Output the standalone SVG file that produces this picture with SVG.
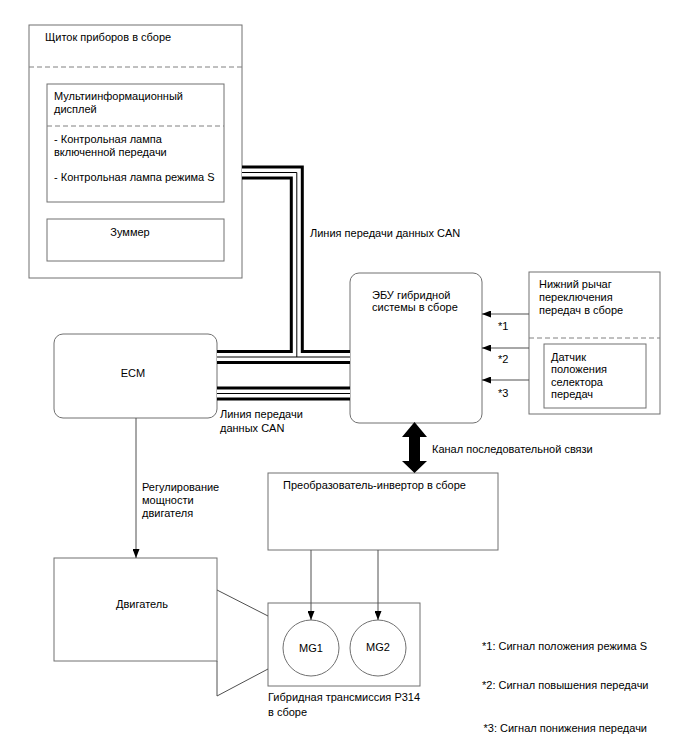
<svg xmlns="http://www.w3.org/2000/svg" width="688" height="755" viewBox="0 0 688 755">
<defs>
<marker id="ah" markerUnits="userSpaceOnUse" markerWidth="9" markerHeight="7" refX="9" refY="3.5" orient="auto">
<path d="M0,0 L9,3.5 L0,7 z" fill="#000"/>
</marker>
<style>
text{font-family:"Liberation Sans",Arial,sans-serif;font-size:11px;fill:#000}
.box{fill:#fff;stroke:#707070;stroke-width:1}
.dash{stroke:#808080;stroke-width:1;stroke-dasharray:5,3;fill:none}
.ln{stroke:#505050;stroke-width:1;fill:none}
.busB{stroke:#000;stroke-width:14;fill:none;stroke-linejoin:miter}
.busW{stroke:#fff;stroke-width:8;fill:none;stroke-linejoin:miter}
.busT{stroke:#000;stroke-width:1;fill:none}
.mid{text-anchor:middle}
</style>
</defs>
<rect width="688" height="755" fill="#fff"/>

<g id="cluster">
<rect class="box" x="29" y="25" width="213" height="253"/>
<line class="dash" x1="29" y1="67" x2="242" y2="67"/>
<text x="45" y="40.5">Щиток приборов в сборе</text>
</g>
<g id="mid">
<rect class="box" x="47" y="84" width="177" height="118"/>
<line class="dash" x1="47" y1="126" x2="224" y2="126"/>
<text x="54" y="100">Мультиинформационный</text>
<text x="54" y="112.5">дисплей</text>
<text x="54" y="143">- Контрольная лампа</text>
<text x="54" y="155.5">включенной передачи</text>
<text x="54" y="180.5">- Контрольная лампа режима S</text>
</g>
<g id="buzzer">
<rect class="box" x="47" y="219" width="177" height="42"/>
<text class="mid" x="130" y="235.5">Зуммер</text>
</g>

<g id="ecm">
<rect class="box" x="54" y="334" width="163" height="84" rx="9"/>
<text class="mid" x="133" y="377">ECM</text>
</g>
<g id="hv-ecu">
<rect class="box" x="350" y="273" width="132" height="150" rx="9"/>
<text x="372" y="299">ЭБУ гибридной</text>
<text x="372" y="311">системы в сборе</text>
</g>
<g id="shift">
<rect class="box" x="529" y="272" width="131" height="142"/>
<line class="dash" x1="529" y1="338" x2="660" y2="338"/>
<text x="539" y="288">Нижний рычаг</text>
<text x="539" y="300.5">переключения</text>
<text x="539" y="313.5">передач в сборе</text>
</g>
<g id="sensor">
<rect class="box" x="544" y="344" width="102" height="64"/>
<text x="551" y="360.5">Датчик</text>
<text x="551" y="373">положения</text>
<text x="551" y="385.5">селектора</text>
<text x="551" y="398">передач</text>
</g>
<g id="inverter">
<rect class="box" x="268" y="473" width="230" height="77"/>
<text x="283" y="489">Преобразователь-инвертор в сборе</text>
</g>
<g id="engine">
<rect class="box" x="54" y="558" width="163" height="103"/>
<text class="mid" x="142" y="608">Двигатель</text>
</g>
<g id="transmission">
<rect class="box" x="268" y="603" width="152" height="83"/>
<polyline class="ln" points="268,616 217,590"/>
<polyline class="ln" points="217,661 217,696 268,669"/>
<text x="268" y="701">Гибридная трансмиссия P314</text>
<text x="268" y="715.5">в сборе</text>
</g>
<g id="mg1">
<circle class="box" cx="311" cy="648" r="28"/>
<text class="mid" x="311" y="652">MG1</text>
</g>
<g id="mg2">
<circle class="box" cx="378" cy="648" r="28"/>
<text class="mid" x="378" y="651">MG2</text>
</g>

<g id="connectors">
<path class="busB" d="M242,172.5 H296.8 V357"/>
<path class="busB" d="M217,357 H350"/>
<path class="busB" d="M217,393.5 H350"/>
<path class="busW" d="M242,172.5 H296.8 V357"/>
<path class="busW" d="M217,357 H350"/>
<path class="busW" d="M217,393.5 H350"/>
<path class="busT" d="M242,172.5 H296.8 V357"/>
<path class="busT" d="M217,357 H350"/>
<path class="busT" d="M217,393.5 H350"/>
<text x="310" y="237">Линия передачи данных CAN</text>
<text x="220" y="418">Линия передачи</text>
<text x="220" y="431.5">данных CAN</text>

<line class="ln" x1="529" y1="314" x2="482" y2="314" marker-end="url(#ah)"/>
<line class="ln" x1="529" y1="348" x2="482" y2="348" marker-end="url(#ah)"/>
<line class="ln" x1="529" y1="380" x2="482" y2="380" marker-end="url(#ah)"/>
<text x="498" y="330">*1</text>
<text x="498" y="363">*2</text>
<text x="498" y="396.5">*3</text>

<line class="ln" x1="136" y1="418" x2="136" y2="558" marker-end="url(#ah)"/>
<text x="142" y="490.5">Регулирование</text>
<text x="142" y="504">мощности</text>
<text x="142" y="516.5">двигателя</text>

<polygon points="414.5,422 427,437 420,437 420,461 427,461 414.5,473 402,461 409,461 409,437 402,437" fill="#000"/>
<text x="432" y="453">Канал последовательной связи</text>

<line class="ln" x1="311" y1="550" x2="311" y2="620" marker-end="url(#ah)"/>
<line class="ln" x1="378" y1="550" x2="378" y2="620" marker-end="url(#ah)"/>
</g>

<g id="notes">
<text x="482" y="650">*1: Сигнал положения режима S</text>
<text x="482" y="689">*2: Сигнал повышения передачи</text>
<text x="483.5" y="732">*3: Сигнал понижения передачи</text>
</g>
</svg>
